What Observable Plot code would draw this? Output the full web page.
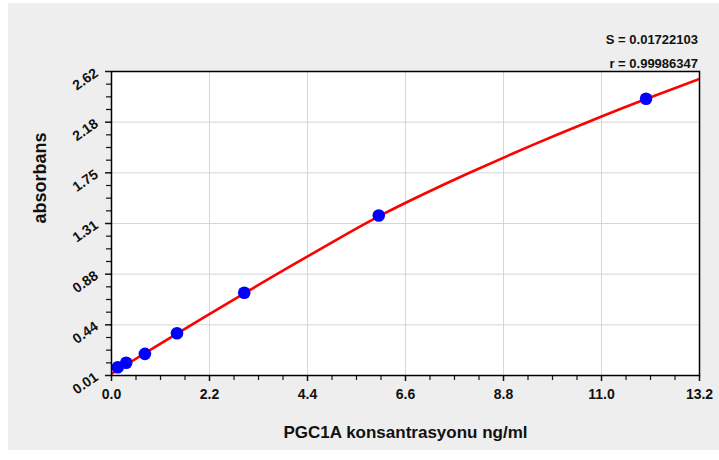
<!DOCTYPE html>
<html><head><meta charset="utf-8">
<script src="https://cdn.jsdelivr.net/npm/d3@7"></script>
<script src="https://cdn.jsdelivr.net/npm/@observablehq/plot@0.6"></script>
<style>
body{margin:0;background:#ffffff;}
#wrap{position:relative;width:719px;height:460px;overflow:hidden;font-family:"Liberation Sans",Arial,sans-serif;}
#panel{position:absolute;left:8px;top:3px;width:711px;height:447px;background:#eeeeee;}
#chart{position:absolute;left:0;top:0;}
.stat{position:absolute;right:21px;font-weight:bold;font-size:13px;color:#111;}
</style></head>
<body>
<div id="wrap"><div id="panel"></div><div id="chart"></div>
<div class="stat" style="top:32px">S = 0.01722103</div>
<div class="stat" style="top:56px">r = 0.99986347</div>
</div>
<script>
// standard points
const concentration = [0.14, 0.33, 0.75, 1.47, 2.98, 6.0, 12.0];
const absorbance    = [0.081, 0.119, 0.196, 0.373, 0.72, 1.384, 2.386];
// fitted curve
const curveConc = [0, 1, 2, 3, 4, 5, 6, 7, 8, 9, 10, 11, 12, 13.2];
const curveAbs  = [0.025, 0.26, 0.492, 0.72, 0.944, 1.164, 1.376, 1.566, 1.744, 1.914, 2.077, 2.234, 2.384, 2.556];
// axes
const xTicks = [0, 2.2, 4.4, 6.6, 8.8, 11.0, 13.2];
const xTickLabels = ["0.0", "2.2", "4.4", "6.6", "8.8", "11.0", "13.2"];
const yTicks = [0.01, 0.445, 0.88, 1.315, 1.75, 2.185, 2.62];
const yTickLabels = ["0.01", "0.44", "0.88", "1.31", "1.75", "2.18", "2.62"];
const xTitle = "PGC1A konsantrasyonu ng/ml";
const yTitle = "absorbans";

const xMinor = [];
for (let i = 0; i < xTicks.length - 1; i++) for (let k = 1; k < 4; k++) xMinor.push(xTicks[i] + (xTicks[i+1]-xTicks[i])*k/4);
const yMinor = [];
for (let i = 0; i < yTicks.length - 1; i++) for (let k = 1; k < 4; k++) yMinor.push(yTicks[i] + (yTicks[i+1]-yTicks[i])*k/4);

const points = concentration.map((c, i) => ({x: c, y: absorbance[i]}));
const curve = curveConc.map((c, i) => ({x: c, y: curveAbs[i]}));

const plot = Plot.plot({
  width: 719, height: 460,
  marginLeft: 111, marginRight: 20, marginTop: 71, marginBottom: 85,
  style: {background: "transparent", fontFamily: "'Liberation Sans', Arial, sans-serif", fontWeight: "bold", color: "#111"},
  x: {domain: [0, 13.2]},
  y: {domain: [0.01, 2.62]},
  marks: [
    Plot.frame({fill: "white"}),
    Plot.gridX(xTicks, {stroke: "#d6d6d6", strokeOpacity: 1, strokeWidth: 1}),
    Plot.gridY(yTicks, {stroke: "#d6d6d6", strokeOpacity: 1, strokeWidth: 1}),
    Plot.axisX(xMinor, {tickSize: 5, text: null, label: null, stroke: "#111", strokeWidth: 1.2}),
    Plot.axisY(yMinor, {tickSize: 5, text: null, label: null, stroke: "#111", strokeWidth: 1.2}),
    Plot.axisX(xTicks, {tickSize: 6, tickPadding: 8, fontSize: 14, stroke: "#111", strokeWidth: 1.5,
      tickFormat: d => xTickLabels[xTicks.indexOf(d)], label: null}),
    Plot.axisY(yTicks, {tickSize: 6, tickPadding: 9, fontSize: 14, tickRotate: -35, stroke: "#111", strokeWidth: 1.5,
      tickFormat: d => yTickLabels[yTicks.indexOf(d)], label: null}),
    Plot.line(curve, {x: "x", y: "y", stroke: "#ff0000", strokeWidth: 2.6, curve: "natural", clip: true}),
    Plot.dot(points, {x: "x", y: "y", r: 6.3, fill: "#0000ff", stroke: "none"}),
    Plot.frame({stroke: "#000", strokeWidth: 1.5}),
    Plot.text([xTitle], {frameAnchor: "bottom", dy: 62, text: d => d, fontSize: 17, fontWeight: "bold", fill: "#111"}),
    Plot.text([yTitle], {frameAnchor: "left", dx: -71, rotate: -90, text: d => d, fontSize: 18, fontWeight: "bold", fill: "#111"})
  ]
});
document.getElementById("chart").appendChild(plot);
</script>
</body></html>
